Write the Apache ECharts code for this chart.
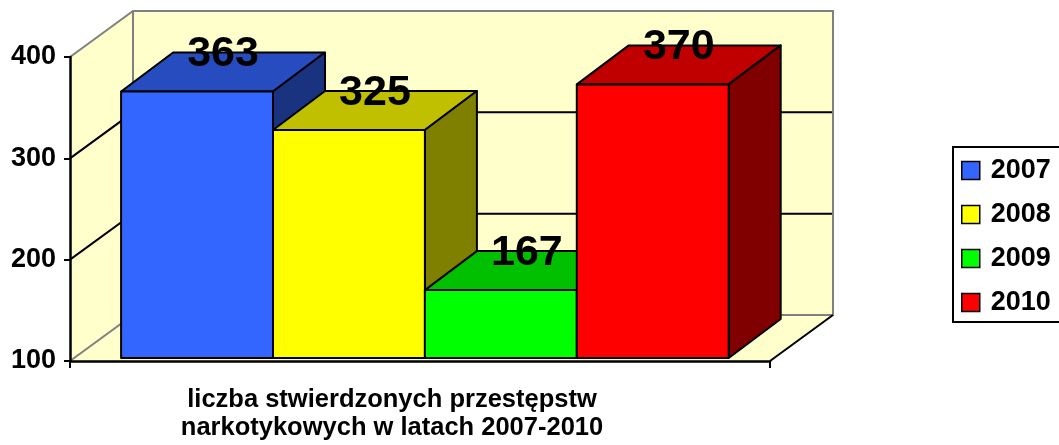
<!DOCTYPE html>
<html>
<head>
<meta charset="utf-8">
<script src="https://cdn.jsdelivr.net/npm/echarts/dist/echarts.min.js"></script>
<style>
  html, body { margin: 0; padding: 0; background: #fff; }
  #chart { width: 1059px; height: 445px; }
</style>
</head>
<body>
<div id="chart"></div>
<script>
// data
const categories = ['liczba stwierdzonych przestępstw\nnarkotykowych w latach 2007-2010'];
const years = ['2007', '2008', '2009', '2010'];
const values = [363, 325, 167, 370];
const yTicks = [100, 200, 300, 400];

// colours: front face, top face, side face
const frontColors = ['#3366FF', '#FFFF00', '#00FF00', '#FF0000'];
const topColors = ['#264CBF', '#C0C000', '#00C000', '#C00000'];
const sideColors = ['#1A3380', '#808000', '#008000', '#800000'];

const FONT = 'Liberation Sans, Arial, sans-serif';
const WALL = '#FFFFCC';
const EDGE = '#808080';
const WALL_DX = 63, WALL_DY = -46;   // depth of the chart box
const BAR_DX = 52, BAR_DY = -39;     // depth of each bar
const yMin = yTicks[0], yMax = yTicks[yTicks.length - 1];

function renderWalls(params, api) {
  const band = api.size([1, 0])[0];
  const base = api.coord([0, yMin]);
  const topPt = api.coord([0, yMax]);
  const x0 = base[0] - band / 2, x1 = base[0] + band / 2;
  const yb = base[1], yt = topPt[1];
  const children = [];
  const fill = { fill: WALL, stroke: null };
  // side wall, back wall, floor
  children.push({ type: 'polygon', shape: { points: [[x0, yb], [x0, yt], [x0 + WALL_DX, yt + WALL_DY], [x0 + WALL_DX, yb + WALL_DY]] }, style: fill });
  children.push({ type: 'rect', shape: { x: x0 + WALL_DX, y: yt + WALL_DY, width: band, height: yb - yt }, style: fill });
  children.push({ type: 'polygon', shape: { points: [[x0, yb], [x1, yb], [x1 + WALL_DX, yb + WALL_DY], [x0 + WALL_DX, yb + WALL_DY]] }, style: fill });
  // grid lines for inner ticks
  yTicks.slice(1, -1).forEach(t => {
    const y = api.coord([0, t])[1];
    children.push({ type: 'polyline', shape: { points: [[x0, y], [x0 + WALL_DX, y + WALL_DY], [x1 + WALL_DX, y + WALL_DY]] }, style: { stroke: '#000', lineWidth: 2, fill: null } });
  });
  // grey wall edges
  children.push({ type: 'polyline', shape: { points: [[x0, yt], [x0 + WALL_DX, yt + WALL_DY], [x1 + WALL_DX, yt + WALL_DY], [x1 + WALL_DX, yb + WALL_DY], [x0 + WALL_DX, yb + WALL_DY], [x0, yb]] }, style: { stroke: EDGE, lineWidth: 2, fill: null } });
  children.push({ type: 'line', shape: { x1: x0 + WALL_DX, y1: yt + WALL_DY, x2: x0 + WALL_DX, y2: yb + WALL_DY }, style: { stroke: EDGE, lineWidth: 2 } });
  // floor right edge
  children.push({ type: 'line', shape: { x1: x1, y1: yb, x2: x1 + WALL_DX, y2: yb + WALL_DY }, style: { stroke: '#000', lineWidth: 2 } });
  return { type: 'group', children: children };
}

function renderBar(params, api) {
  const i = params.seriesIndex - 1;
  const band = api.size([1, 0])[0];
  const base = api.coord([0, yMin]);
  const topPt = api.coord([0, api.value(1)]);
  const bw = band * 0.217;
  const L = base[0] - band / 2 + band * 0.073 + i * bw;
  const R = L + bw;
  const B = base[1] - 3, T = topPt[1] - 3;
  const line = { stroke: '#000', lineWidth: 2, lineJoin: 'round' };
  return {
    type: 'group',
    children: [
      { type: 'polygon', shape: { points: [[L, T], [R, T], [R + BAR_DX, T + BAR_DY], [L + BAR_DX, T + BAR_DY]] }, style: Object.assign({ fill: topColors[i] }, line) },
      { type: 'polygon', shape: { points: [[R, T], [R + BAR_DX, T + BAR_DY], [R + BAR_DX, B + BAR_DY], [R, B]] }, style: Object.assign({ fill: sideColors[i] }, line) },
      { type: 'rect', shape: { x: L, y: T, width: bw, height: B - T }, style: Object.assign({ fill: frontColors[i] }, line) },
      { type: 'text', z2: 100, style: { x: (L + R) / 2 + 26, y: T - 37, text: String(api.value(1)), align: 'center', verticalAlign: 'middle', font: 'bold 43px ' + FONT, fill: '#000' } }
    ]
  };
}

const chart = echarts.init(document.getElementById('chart'));

const series = [{
  type: 'custom',
  silent: true,
  renderItem: renderWalls,
  data: [[0, yMin]],
  z: 1
}].concat(years.map((y, i) => ({
  name: y,
  type: 'custom',
  renderItem: renderBar,
  itemStyle: { color: frontColors[i] },
  data: [[0, values[i]]],
  z: 3
})));

chart.setOption({
  animation: false,
  color: frontColors,
  grid: { left: 70, right: 289, top: 57, bottom: 84 },
  // legend frame runs past the right edge of the picture
  graphic: [{
    type: 'rect',
    shape: { x: 953, y: 147, width: 140, height: 175 },
    style: { fill: null, stroke: '#000', lineWidth: 2 }
  }],
  legend: {
    data: years,
    orient: 'vertical',
    left: 952,
    top: 147,
    icon: 'rect',
    itemWidth: 18,
    itemHeight: 18,
    itemGap: 17,
    padding: [10, 10, 10, 9],
    itemStyle: { borderColor: '#000', borderWidth: 1.5 },
    textStyle: { fontFamily: FONT, fontWeight: 'bold', fontSize: 27, color: '#000', lineHeight: 24, padding: [0, 0, 0, 6] }
  },
  xAxis: {
    type: 'category',
    data: categories,
    z: 10,
    axisLine: { lineStyle: { color: '#000', width: 2.5 } },
    axisTick: { show: true, length: 7, lineStyle: { color: '#000', width: 2 } },
    axisLabel: {
      margin: 25,
      fontFamily: FONT,
      fontWeight: 'bold',
      fontSize: 25.5,
      lineHeight: 28,
      color: '#000',
      padding: [0, 56, 0, 0]
    },
    splitLine: { show: false }
  },
  yAxis: {
    type: 'value',
    min: yMin,
    max: yMax,
    interval: 100,
    z: 10,
    axisLine: { show: true, lineStyle: { color: '#000', width: 2.5 } },
    axisTick: { show: true, length: 6, lineStyle: { color: '#000', width: 2 } },
    axisLabel: { margin: 14, fontFamily: FONT, fontWeight: 'bold', fontSize: 27, color: '#000' },
    splitLine: { show: false }
  },
  series: series
});
</script>
</body>
</html>
